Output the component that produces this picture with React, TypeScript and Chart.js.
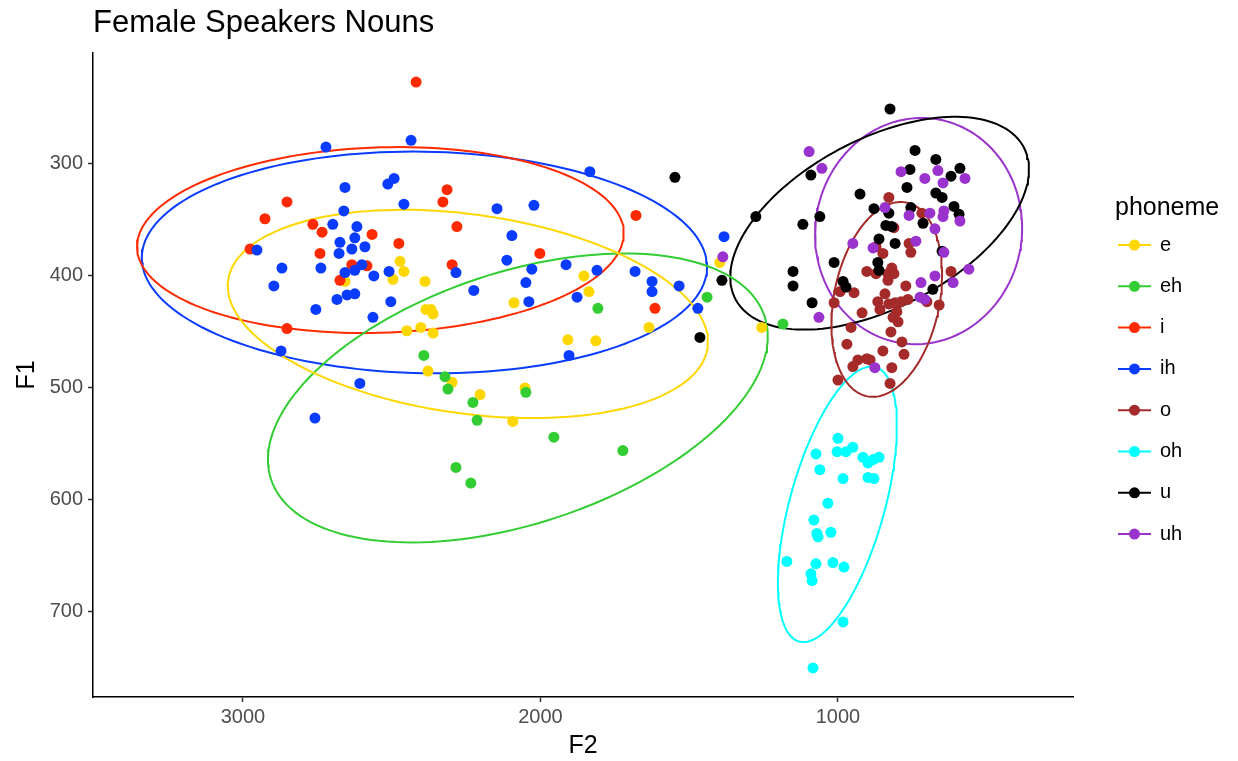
import React, { useEffect, useRef } from "react";
import { Chart, registerables } from "chart.js";

Chart.register(...registerables);

const titleText = "Female Speakers Nouns";
const xTitle = "F2";
const yTitle = "F1";
const legendTitle = "phoneme";

const phonemes = ["e", "eh", "i", "ih", "o", "oh", "u", "uh"];
const colors = ["#FFD700", "#32CD32", "#FF2A00", "#0A3CFF", "#A52A2A", "#00FFFF", "#000000", "#9A32CD"];

const xTicks = [1000, 2000, 3000];
const yTicks = [300, 400, 500, 600, 700];

// e
const eF2 = [2472, 2459, 2496, 2657, 2388, 2385, 2368, 2361, 2449, 2402, 2361, 2378, 2297, 2203, 2052, 2093, 2089, 1854, 1837, 1635, 1908, 1814, 1397, 1256];
const eF1 = [387, 396, 403, 405, 405, 430, 430, 434, 449, 446, 451, 485, 495, 506, 500, 530, 424, 400, 414, 446, 457, 458, 388, 446];
// eh
const ehF2 = [2392, 2321, 2311, 2227, 2213, 2284, 2234, 2049, 1955, 1723, 1807, 1440, 1185];
const ehF1 = [471, 490, 501, 513, 529, 571, 585, 504, 544, 556, 429, 419, 443];
// i
const iF2 = [2418, 2976, 2926, 2852, 2765, 2734, 2566, 2476, 2741, 2634, 2583, 2674, 2314, 2328, 2281, 2297, 2852, 1679, 2002, 1615];
const iF1 = [227, 376, 349, 334, 354, 361, 363, 371, 380, 390, 391, 404, 323, 334, 356, 390, 447, 346, 380, 429];
// ih
const ihF2 = [2435, 2721, 2657, 2513, 2492, 2459, 2661, 2698, 2617, 2624, 2674, 2590, 2634, 2677, 2953, 2869, 2738, 2600, 2624, 2657, 2560, 2509, 2284, 2896, 2684, 2650, 2624, 2503, 2755, 2563, 2224, 2872, 2607, 2758, 1834, 2022, 2146, 1383, 2096, 2113, 1914, 2029, 1810, 1682, 2049, 1625, 1625, 1534, 1877, 2039, 1471, 1904];
const ihF1 = [279, 285, 321, 318, 313, 336, 342, 354, 356, 366, 370, 374, 376, 380, 377, 393, 393, 390, 395, 397, 400, 396, 397, 409, 421, 417, 416, 423, 430, 437, 413, 467, 496, 527, 307, 337, 340, 365, 364, 386, 390, 394, 395, 396, 406, 405, 414, 409, 419, 423, 429, 471];
// o
const oF2 = [829, 718, 812, 761, 755, 872, 849, 903, 872, 832, 819, 812, 832, 620, 772, 993, 946, 1013, 842, 866, 829, 808, 788, 765, 701, 660, 859, 919, 802, 815, 798, 956, 822, 785, 970, 849, 778, 933, 903, 892, 950, 819, 1000, 825];
const oF1 = [330, 344, 357, 371, 379, 374, 380, 396, 398, 398, 393, 398, 404, 396, 409, 414, 415, 424, 416, 423, 425, 424, 423, 421, 423, 426, 430, 433, 432, 437, 441, 446, 450, 459, 461, 467, 470, 475, 474, 475, 481, 482, 493, 496];
// oh
const ohF2 = [1000, 1074, 1003, 973, 950, 916, 899, 882, 862, 1061, 983, 899, 879, 1034, 1081, 1071, 1067, 1024, 1172, 1074, 1017, 980, 1091, 1087, 983, 1084];
const ohF1 = [545, 559, 557, 557, 553, 562, 567, 564, 562, 573, 581, 580, 581, 603, 618, 630, 633, 629, 655, 657, 656, 660, 666, 672, 709, 750];
// u
const uF2 = [825, 741, 671, 590, 620, 1091, 758, 768, 926, 671, 650, 1276, 1061, 1118, 879, 829, 755, 610, 593, 714, 839, 819, 862, 808, 650, 1013, 866, 862, 1151, 1151, 1390, 983, 973, 681, 1087, 1464, 1548];
const uF1 = [251, 288, 296, 304, 311, 310, 305, 321, 327, 326, 330, 347, 347, 354, 340, 344, 339, 338, 345, 353, 355, 356, 367, 371, 378, 388, 388, 395, 396, 409, 404, 405, 410, 412, 424, 455, 312];
// uh
const uhF2 = [1097, 1054, 788, 664, 708, 647, 573, 842, 761, 691, 644, 647, 590, 674, 738, 950, 882, 644, 560, 674, 1387, 721, 613, 724, 708, 1064, 876];
const uhF1 = [289, 304, 307, 306, 313, 317, 313, 339, 346, 344, 342, 347, 351, 358, 369, 371, 375, 379, 394, 400, 383, 406, 406, 419, 421, 437, 482];

// ellipse parameters per phoneme (data units)
const ellCenterF2 = [2244, 2076, 2538, 2390, 836, 1002, 860, 729];
const ellCenterF1 = [434, 509, 368, 388, 421, 604, 353, 360];
const ellHalfF2 = [807, 840, 818, 950, 186, 200, 502, 348];
const ellHalfF1 = [93, 129, 83, 99, 87, 123, 95, 101];
const ellTiltF1 = [-25, 55, 6, -4, 22, 70, 48, 3]; // F1 offset of the highest-F2 point

const f2Lists = [eF2, ehF2, iF2, ihF2, oF2, ohF2, uF2, uhF2];
const f1Lists = [eF1, ehF1, iF1, ihF1, oF1, ohF1, uF1, uhF1];

const FONT = "'Liberation Sans', Arial, Helvetica, sans-serif";

function ellipsePoints(k: number) {
  const n = 160;
  const cx = ellCenterF2[k], cy = ellCenterF1[k];
  const a = ellHalfF2[k], h = ellHalfF1[k], ay = ellTiltF1[k];
  const by = Math.sqrt(Math.max(h * h - ay * ay, 0));
  const pts: { x: number; y: number }[] = [];
  for (let j = 0; j <= n; j++) {
    const t = (2 * Math.PI * j) / n;
    pts.push({ x: cx + a * Math.cos(t), y: cy + ay * Math.cos(t) + by * Math.sin(t) });
  }
  return pts;
}

const decorPlugin = {
  id: "decor",
  afterDraw(chart: any) {
    const { ctx, chartArea } = chart;
    ctx.save();
    ctx.fillStyle = "#000";
    ctx.font = `31px ${FONT}`;
    ctx.textAlign = "left";
    ctx.textBaseline = "alphabetic";
    ctx.fillText(titleText, chartArea.left, 32);

    ctx.font = `25px ${FONT}`;
    ctx.textAlign = "center";
    ctx.textBaseline = "middle";
    ctx.fillText(xTitle, (chartArea.left + chartArea.right) / 2, 746);
    ctx.save();
    ctx.translate(27, (chartArea.top + chartArea.bottom) / 2);
    ctx.rotate(-Math.PI / 2);
    ctx.fillText(yTitle, 0, 0);
    ctx.restore();

    const lx = chartArea.right + 45;
    ctx.textAlign = "left";
    ctx.textBaseline = "alphabetic";
    ctx.fillText(legendTitle, lx - 3, 215);
    phonemes.forEach((p, i) => {
      const y = 245 + i * 41.3;
      ctx.strokeStyle = colors[i];
      ctx.lineWidth = 2;
      ctx.beginPath();
      ctx.moveTo(lx, y);
      ctx.lineTo(lx + 33, y);
      ctx.stroke();
      ctx.fillStyle = colors[i];
      ctx.beginPath();
      ctx.arc(lx + 16.5, y, 5.5, 0, 2 * Math.PI);
      ctx.fill();
      ctx.fillStyle = "#000";
      ctx.font = `20px ${FONT}`;
      ctx.textBaseline = "middle";
      ctx.fillText(p, lx + 42, y);
    });
    ctx.restore();
  },
};

export default function App() {
  const ref = useRef<HTMLCanvasElement>(null);
  useEffect(() => {
    document.body.style.margin = "0";
    const pointSets = phonemes.map((p, k) => ({
      label: p,
      data: f2Lists[k].map((x, j) => ({ x, y: f1Lists[k][j] })),
      backgroundColor: colors[k],
      borderWidth: 0,
      pointRadius: 5.5,
      pointHoverRadius: 5.5,
      showLine: false,
      order: 8 - k,
    }));
    const ellipseSets = phonemes.map((p, k) => ({
      label: p + " ellipse",
      data: ellipsePoints(k),
      borderColor: colors[k],
      borderWidth: 2,
      pointRadius: 0,
      showLine: true,
      fill: false,
      tension: 0,
      order: 20 + k,
    }));
    const chart = new Chart(ref.current!, {
      type: "scatter",
      data: { datasets: [...ellipseSets, ...pointSets] as any },
      options: {
        responsive: false,
        animation: false,
        layout: { padding: { top: 53, right: 165, left: 0, bottom: 0 } },
        plugins: { legend: { display: false }, tooltip: { enabled: false } },
        scales: {
          x: {
            type: "linear",
            reverse: true,
            min: 210,
            max: 3504,
            afterBuildTicks: (s: any) => {
              s.ticks = xTicks.map((v) => ({ value: v }));
            },
            afterFit: (s: any) => {
              s.height = 64;
            },
            ticks: { font: { size: 20, family: FONT }, color: "#4D4D4D", padding: 3, callback: (v: any) => String(v) },
            grid: { display: true, drawOnChartArea: false, drawTicks: true, tickLength: 5, tickColor: "#333333", tickWidth: 1.5 },
            border: { display: true, color: "#000", width: 1.5 },
          },
          y: {
            type: "linear",
            reverse: true,
            min: 201,
            max: 776,
            afterBuildTicks: (s: any) => {
              s.ticks = yTicks.map((v) => ({ value: v }));
            },
            afterFit: (s: any) => {
              s.width = 93;
            },
            ticks: { font: { size: 20, family: FONT }, color: "#4D4D4D", padding: 5, callback: (v: any) => String(v) },
            grid: { display: true, drawOnChartArea: false, drawTicks: true, tickLength: 5, tickColor: "#333333", tickWidth: 1.5 },
            border: { display: true, color: "#000", width: 1.5 },
          },
        },
      },
      plugins: [decorPlugin],
    });
    return () => chart.destroy();
  }, []);
  return (
    <div style={{ width: 1238, height: 761 }}>
      <canvas ref={ref} width={1238} height={761} style={{ display: "block" }} />
    </div>
  );
}
